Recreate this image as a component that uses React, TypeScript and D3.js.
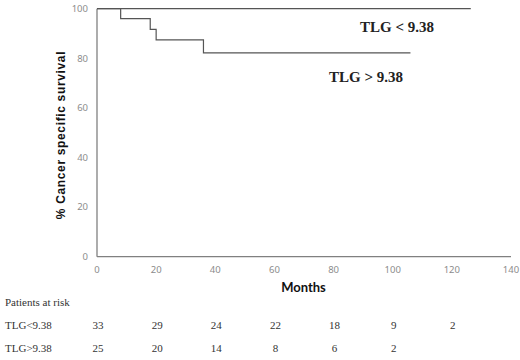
import React from "react";
import * as d3 from "d3";

const lowTimes = [0, 126.4];
const lowSurv = [100, 100];
const highTimes = [0, 8, 18, 20, 36, 106];
const highSurv = [100, 96, 91.7, 87.4, 82.2, 82.2];
const xTicks = [0, 20, 40, 60, 80, 100, 120, 140];
const yTicks = [0, 20, 40, 60, 80, 100];
const riskMonths = [0, 20, 40, 60, 80, 100, 120];
const riskLow = [33, 29, 24, 22, 18, 9, 2];
const riskHigh = [25, 20, 14, 8, 6, 2];
const groupLabels = ["TLG < 9.38", "TLG > 9.38"];
const riskLabels = ["TLG<9.38", "TLG>9.38"];

export default function App() {
  const W = 520, H = 360;
  const x = d3.scaleLinear().domain([0, 140]).range([97, 511]);
  const y = d3.scaleLinear().domain([0, 100]).range([256.7, 8.7]);
  const line = d3
    .line<[number, number]>()
    .x((d) => x(d[0]))
    .y((d) => y(d[1]))
    .curve(d3.curveStepAfter);
  const lowPts = lowTimes.map((t, i) => [t, lowSurv[i]] as [number, number]);
  const highPts = highTimes.map((t, i) => [t, highSurv[i]] as [number, number]);
  const tickFont = "'Noto Sans', sans-serif";
  const serif = "'Liberation Serif', 'Times New Roman', serif";
  return (
    <svg width={W} height={H} style={{ position: "absolute", left: 0, top: 0, background: "#fff" }}>
      <rect x={0} y={0} width={W} height={H} fill="#fff" />
      {/* axes */}
      <line x1={x(0)} x2={x(0)} y1={y(100)} y2={y(0)} stroke="#808080" strokeWidth={1.3} />
      <line x1={x(0)} x2={x(140)} y1={y(0)} y2={y(0)} stroke="#808080" strokeWidth={1.3} />
      {yTicks.map((t) => (
        <text key={"y" + t} x={88} y={y(t)} dy="0.35em" textAnchor="end" fontSize={9.5} fill="#8c8c8c" fontFamily={tickFont}>
          {t}
        </text>
      ))}
      {xTicks.map((t) => (
        <text key={"x" + t} x={x(t)} y={270} dy="0.35em" textAnchor="middle" fontSize={9.5} fill="#8c8c8c" fontFamily={tickFont}>
          {t}
        </text>
      ))}
      {/* curves */}
      <path d={line(lowPts) || ""} fill="none" stroke="#555" strokeWidth={1.2} />
      <path d={line(highPts) || ""} fill="none" stroke="#555" strokeWidth={1.2} />
      {/* group labels */}
      <text x={360} y={27} dy="0.35em" fontSize={15} fontWeight="bold" fontFamily={serif} fill="#222">
        {groupLabels[0]}
      </text>
      <text x={329} y={77} dy="0.35em" fontSize={15} fontWeight="bold" fontFamily={serif} fill="#222">
        {groupLabels[1]}
      </text>
      {/* axis titles */}
      <text
        transform={`translate(61,135) rotate(-90)`}
        textAnchor="middle"
        dy="0.35em"
        fontSize={12}
        fontWeight="bold"
        fontFamily="'Liberation Sans', Arial, sans-serif"
        letterSpacing={0.65}
        fill="#111"
      >
        % Cancer specific survival
      </text>
      <text x={303.5} y={287} dy="0.35em" textAnchor="middle" fontSize={13} fontWeight="bold" fontFamily="Lato, sans-serif" fill="#111">
        Months
      </text>
      {/* risk table */}
      <text x={5} y={302} dy="0.35em" fontSize={11} fontFamily={serif} fill="#333">
        Patients at risk
      </text>
      <text x={5} y={325} dy="0.35em" fontSize={11} fontFamily={serif} fill="#333">
        {riskLabels[0]}
      </text>
      <text x={5} y={348} dy="0.35em" fontSize={11} fontFamily={serif} fill="#333">
        {riskLabels[1]}
      </text>
      {riskLow.map((v, i) => (
        <text key={"rl" + i} x={x(riskMonths[i]) + 1} y={325} dy="0.35em" textAnchor="middle" fontSize={11} fontFamily={serif} fill="#333">
          {v}
        </text>
      ))}
      {riskHigh.map((v, i) => (
        <text key={"rh" + i} x={x(riskMonths[i]) + 1} y={348} dy="0.35em" textAnchor="middle" fontSize={11} fontFamily={serif} fill="#333">
          {v}
        </text>
      ))}
    </svg>
  );
}
